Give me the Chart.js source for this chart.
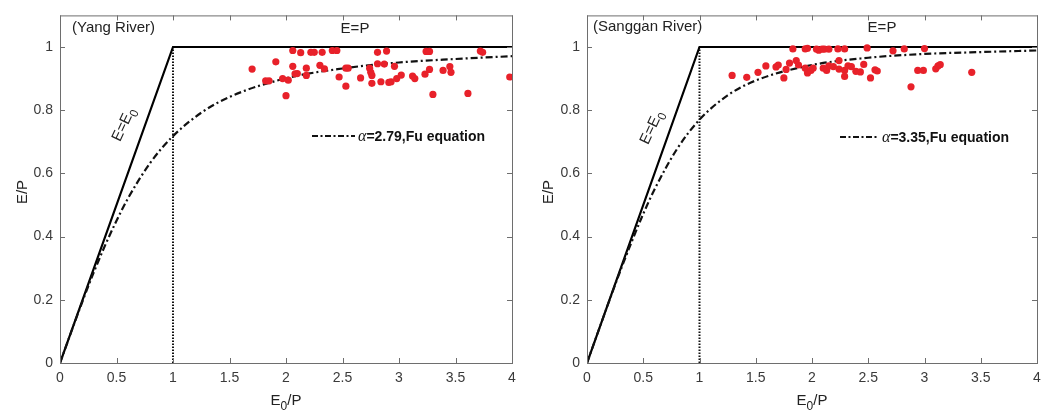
<!DOCTYPE html>
<html>
<head>
<meta charset="utf-8">
<script src="https://cdn.jsdelivr.net/npm/chart.js@4.4.1/dist/chart.umd.min.js"></script>
<style>
  html, body { margin: 0; padding: 0; background: #fff; }
  #wrap { position: relative; width: 1053px; height: 412px; overflow: hidden; }
  canvas { position: absolute; top: 0; }
</style>
</head>
<body>
<div id="wrap">
  <canvas id="yang" width="526" height="412" style="left:0"></canvas>
  <canvas id="sanggan" width="526" height="412" style="left:527px"></canvas>
</div>
<script>
// tick values
const xTicks = [0, 0.5, 1, 1.5, 2, 2.5, 3, 3.5, 4];
const yTicks = [0, 0.2, 0.4, 0.6, 0.8, 1];

// limit lines E=E0 and E=P, and the dotted line at E0/P = 1
const limitX = [0, 1, 4];
const limitY = [0, 1, 1];
const dotX = [1, 1];
const dotY = [0, 1];

// Fu curves
const curveX = [0, 0.1, 0.2, 0.3, 0.4, 0.5, 0.6, 0.8, 1, 1.25, 1.5, 2, 2.5, 3, 3.5, 4];
const yangCurveY = [0, 0.099, 0.196, 0.288, 0.373, 0.450, 0.520, 0.634, 0.718, 0.792, 0.842, 0.901, 0.932, 0.951, 0.962, 0.971];
const sangganCurveY = [0, 0.100, 0.199, 0.295, 0.386, 0.472, 0.549, 0.677, 0.770, 0.847, 0.894, 0.943, 0.966, 0.978, 0.984, 0.989];

// observed points, Yang River
const yangX = [1.70, 1.91, 1.82, 1.85, 1.97, 2.00, 2.02, 2.06, 2.06, 2.08, 2.10, 2.13, 2.18, 2.18, 2.22, 2.25,
  2.30, 2.32, 2.34, 2.41, 2.45, 2.47, 2.53, 2.55, 2.53, 2.66, 2.74, 2.75, 2.76, 2.76, 2.81, 2.81, 2.84, 2.87,
  2.89, 2.91, 2.93, 2.96, 2.98, 3.02, 3.12, 3.14, 3.23, 3.24, 3.27, 3.27, 3.30, 3.39, 3.45, 3.46, 3.61, 3.72,
  3.74, 3.98];
const yangY = [0.930, 0.953, 0.893, 0.893, 0.900, 0.846, 0.895, 0.989, 0.939, 0.915, 0.916, 0.982, 0.933, 0.910, 0.983, 0.983,
  0.942, 0.983, 0.931, 0.989, 0.989, 0.905, 0.933, 0.933, 0.876, 0.902, 0.933, 0.920, 0.910, 0.885, 0.983, 0.947, 0.890, 0.946,
  0.987, 0.888, 0.890, 0.939, 0.900, 0.911, 0.908, 0.900, 0.914, 0.986, 0.986, 0.929, 0.850, 0.926, 0.938, 0.920, 0.853, 0.987,
  0.983, 0.905];

// observed points, Sanggan River
const sangganX = [1.29, 1.42, 1.52, 1.59, 1.68, 1.70, 1.75, 1.77, 1.80, 1.83, 1.86, 1.88, 1.94, 1.96, 1.94, 1.96,
  1.99, 2.01, 2.04, 2.06, 2.09, 2.11, 2.15, 2.10, 2.13, 2.15, 2.19, 2.24, 2.23, 2.29, 2.24, 2.29, 2.29, 2.32,
  2.35, 2.39, 2.43, 2.46, 2.49, 2.52, 2.56, 2.58, 2.72, 2.82, 2.88, 2.94, 2.99, 3.00, 3.10, 3.12, 3.14, 3.42];
const sangganY = [0.910, 0.904, 0.920, 0.940, 0.937, 0.943, 0.902, 0.929, 0.949, 0.994, 0.957, 0.943, 0.994, 0.996, 0.933, 0.918,
  0.926, 0.933, 0.993, 0.990, 0.993, 0.993, 0.993, 0.933, 0.926, 0.940, 0.938, 0.957, 0.994, 0.994, 0.930, 0.926, 0.907, 0.940,
  0.938, 0.923, 0.921, 0.945, 0.997, 0.902, 0.928, 0.924, 0.988, 0.994, 0.874, 0.926, 0.926, 0.995, 0.931, 0.940, 0.944, 0.920];

const SANS = '"Liberation Sans", Arial, sans-serif';
const SERIF = '"Liberation Serif", "Times New Roman", serif';
const RED = '#e8212a';

function pts(xs, ys) {
  return xs.map((x, i) => ({ x: x, y: ys[i] }));
}

// draws a word with a subscript "0" after it
function subText(ctx, base, sub, after, x, y, size) {
  ctx.font = size + 'px ' + SANS;
  ctx.fillText(base, x, y);
  let w = ctx.measureText(base).width;
  ctx.font = Math.round(size * 0.8) + 'px ' + SANS;
  ctx.fillText(sub, x + w, y + size * 0.3);
  w += ctx.measureText(sub).width;
  ctx.font = size + 'px ' + SANS;
  if (after) {
    ctx.fillText(after, x + w, y);
    w += ctx.measureText(after).width;
  }
  return w;
}

function subWidth(ctx, base, sub, after, size) {
  ctx.font = size + 'px ' + SANS;
  let w = ctx.measureText(base).width + ctx.measureText(after).width;
  ctx.font = Math.round(size * 0.8) + 'px ' + SANS;
  return w + ctx.measureText(sub).width;
}

const decoPlugin = {
  id: 'deco',
  afterDraw(chart, args, o) {
    const ctx = chart.ctx;
    const a = chart.chartArea;
    const sx = chart.scales.x;
    const sy = chart.scales.y;
    ctx.save();

    // box and inward ticks
    ctx.strokeStyle = '#6e6e6e';
    ctx.lineWidth = 1;
    ctx.strokeRect(a.left + 0.5, a.top + 0.5, a.right - a.left, a.bottom - a.top);
    ctx.beginPath();
    xTicks.forEach(v => {
      const px = Math.round(sx.getPixelForValue(v)) + 0.5;
      ctx.moveTo(px, a.bottom); ctx.lineTo(px, a.bottom - 5);
      ctx.moveTo(px, a.top); ctx.lineTo(px, a.top + 5);
    });
    yTicks.forEach(v => {
      const py = Math.round(sy.getPixelForValue(v)) + 0.5;
      ctx.moveTo(a.left, py); ctx.lineTo(a.left + 5, py);
      ctx.moveTo(a.right, py); ctx.lineTo(a.right - 5, py);
    });
    ctx.stroke();

    ctx.fillStyle = '#222';
    ctx.textBaseline = 'alphabetic';

    // axis titles
    const xw = subWidth(ctx, 'E', '0', '/P', 15);
    subText(ctx, 'E', '0', '/P', (a.left + a.right) / 2 - xw / 2, 405, 15);
    ctx.save();
    ctx.translate(o.yTitleX, 192);
    ctx.rotate(-Math.PI / 2);
    ctx.font = '15px ' + SANS;
    ctx.textAlign = 'center';
    ctx.fillText('E/P', 0, 5);
    ctx.restore();

    // panel name
    ctx.font = '15px ' + SANS;
    ctx.textAlign = 'left';
    ctx.fillText(o.title, o.titleX, o.titleY);

    // E=P
    ctx.textAlign = 'center';
    ctx.fillText('E=P', o.epX, o.epY);

    // E=E0 along the rising line
    ctx.textAlign = 'left';
    ctx.save();
    ctx.translate(o.e0X, o.e0Y);
    ctx.rotate(-65 * Math.PI / 180);
    const ew = subWidth(ctx, 'E=E', '0', '', 15);
    subText(ctx, 'E=E', '0', '', -ew / 2, 5, 15);
    ctx.restore();

    // legend
    ctx.strokeStyle = '#111';
    ctx.lineWidth = 2;
    ctx.setLineDash([6, 2.5, 2, 2.5]);
    ctx.beginPath();
    ctx.moveTo(o.legX1, o.legY);
    ctx.lineTo(o.legX2, o.legY);
    ctx.stroke();
    ctx.setLineDash([]);
    ctx.fillStyle = '#111';
    ctx.font = 'italic 16px ' + SERIF;
    ctx.fillText('\u03b1', o.legX2 + 3, o.legY + 5);
    const aw = ctx.measureText('\u03b1').width;
    ctx.font = 'bold 14px ' + SANS;
    ctx.fillText(o.legText, o.legX2 + 3 + aw, o.legY + 5);

    ctx.restore();
  }
};

function makePanel(id, padTop, padRight, curveY, px, py, deco) {
  new Chart(document.getElementById(id), {
    type: 'scatter',
    data: {
      datasets: [
        { data: pts(px, py), backgroundColor: RED, borderColor: RED, borderWidth: 0,
          pointRadius: 3.6, pointHoverRadius: 3.6 },
        { data: pts(curveX, curveY), showLine: true, borderColor: '#111', borderWidth: 2.2,
          borderDash: [7, 3, 2, 3], pointRadius: 0, cubicInterpolationMode: 'monotone' },
        { data: pts(limitX, limitY), showLine: true, borderColor: '#000', borderWidth: 2.2,
          pointRadius: 0 },
        { data: pts(dotX, dotY), showLine: true, borderColor: '#111', borderWidth: 2,
          borderDash: [1.6, 1.4], pointRadius: 0 }
      ]
    },
    options: {
      responsive: false,
      animation: false,
      events: [],
      layout: { padding: { top: padTop, right: padRight, left: 0, bottom: 0 } },
      plugins: {
        legend: { display: false },
        tooltip: { enabled: false },
        deco: deco
      },
      scales: {
        x: {
          type: 'linear', min: 0, max: 4,
          grid: { display: false, drawTicks: false },
          border: { display: false },
          afterBuildTicks: s => { s.ticks = xTicks.map(v => ({ value: v })); },
          afterFit: s => { s.height = 49; },
          ticks: { padding: 7, color: '#3a3a3a', font: { family: SANS, size: 14 },
                   maxRotation: 0, autoSkip: false, callback: v => String(v) }
        },
        y: {
          type: 'linear', min: 0, max: 1.1,
          grid: { display: false, drawTicks: false },
          border: { display: false },
          afterBuildTicks: s => { s.ticks = yTicks.map(v => ({ value: v })); },
          afterFit: s => { s.width = 60; },
          ticks: { padding: 7, color: '#3a3a3a', font: { family: SANS, size: 14 },
                   autoSkip: false, callback: v => String(v) }
        }
      }
    },
    plugins: [decoPlugin]
  });
}

makePanel('yang', 10, 14, yangCurveY, yangX, yangY, {
  title: '(Yang River)', titleX: 72, titleY: 32,
  epX: 355, epY: 33, e0X: 123, e0Y: 124, yTitleX: 22,
  legX1: 312, legX2: 355, legY: 136, legText: '=2.79,Fu equation'
});

makePanel('sanggan', 12, 16, sangganCurveY, sangganX, sangganY, {
  title: '(Sanggan River)', titleX: 66, titleY: 31,
  epX: 355, epY: 32, e0X: 124, e0Y: 127, yTitleX: 21,
  legX1: 313, legX2: 352, legY: 137, legText: '=3.35,Fu equation'
});
</script>
</body>
</html>
